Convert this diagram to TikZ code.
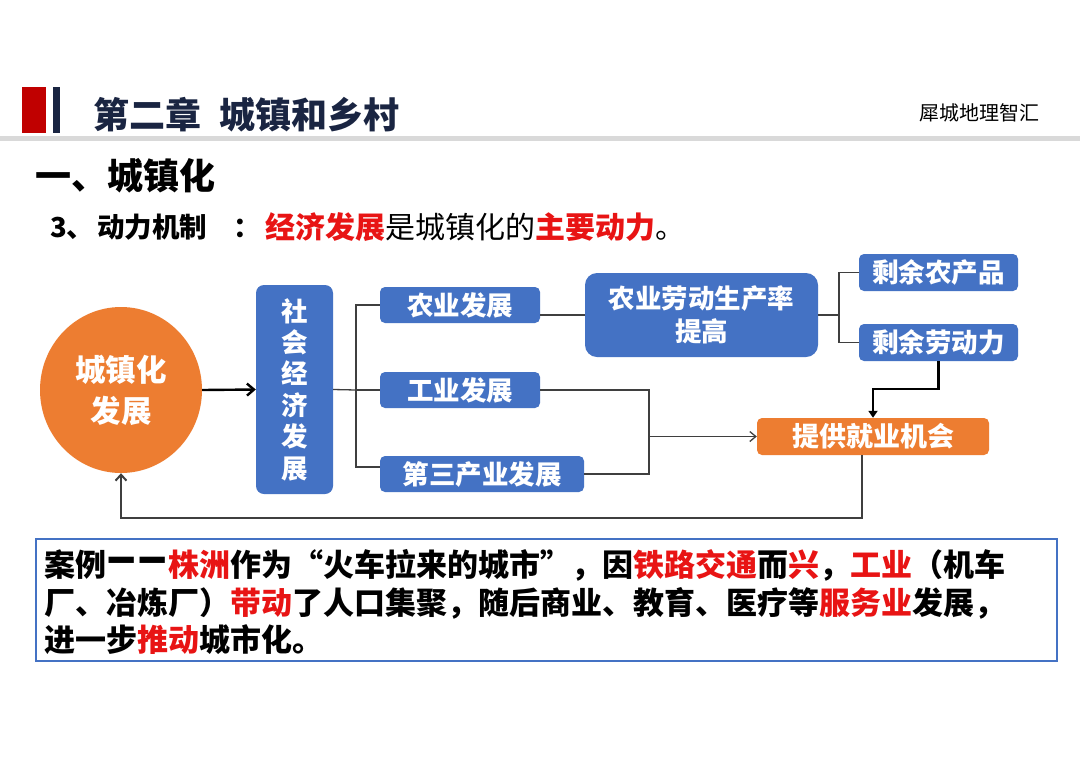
\documentclass[tikz,border=0pt]{standalone}
\usepackage{fontspec}
\usepackage{graphicx}
\setmainfont{Noto Sans CJK SC}
\usetikzlibrary{shapes.geometric,arrows.meta,calc}
\definecolor{boxblue}{HTML}{4472C4}
\definecolor{boxorange}{HTML}{ED7D31}
\definecolor{navy}{HTML}{1A2542}
\definecolor{barred}{HTML}{C00000}
\definecolor{hlred}{HTML}{E81414}
\definecolor{lineg}{HTML}{3F3F3F}
\definecolor{rulegray}{HTML}{D9D9D9}
\newcommand\redw[1]{\textcolor{hlred}{#1}}
\newcommand\setfs[2]{\fontsize{#1}{#2}\selectfont}
\newcommand\wdash{\makebox[1em]{\scalebox{1.0}[1.8]{—}}}
\begin{document}
\begin{tikzpicture}[x=1pt,y=-1pt,
  bluebox/.style={fill=boxblue, rounded corners=5pt, text=white, inner sep=0pt,
                  font=\bfseries\setfs{26.5}{33}, align=center},
  orangebox/.style={fill=boxorange, rounded corners=5pt, text=white, inner sep=0pt,
                  font=\bfseries\setfs{27}{33}, align=center},
  conn/.style={draw=lineg, line width=1.3pt},
  thinarrow/.style={draw=lineg, line width=1.3pt, -{Straight Barb[length=6pt,width=10pt]}},
  thickarrow/.style={draw=black, line width=2.4pt, -{Straight Barb[length=7pt,width=12pt]}},
  filledarrow/.style={draw=black, line width=2.4pt, -{Triangle[length=7pt,width=9pt]}},
  fbarrow/.style={draw=lineg, line width=2pt, -{Straight Barb[length=6pt,width=11pt]}},
  plaintext/.style={inner sep=0pt, anchor=west}
]
\useasboundingbox (0,0) rectangle (1080,764);
\fill[white] (0,0) rectangle (1080,764);

% header
\fill[barred] (22,87) rectangle (46,133);
\fill[navy] (53,87) rectangle (60,133);
\fill[rulegray] (0,136) rectangle (1080,141);
\node[plaintext, text=navy, font=\bfseries\setfs{36}{40}] (title) at (93,115) {第二章\hspace{18pt}城镇和乡村};
\node[inner sep=0pt, font=\setfs{20}{24}] (brand) at (979,113) {犀城地理智汇};
\node[plaintext, font=\bfseries\setfs{36}{40}] (sec) at (35,176) {一、城镇化};
\node[plaintext, font=\bfseries\setfs{27.5}{32}] (sub1) at (50,227) {3、\hspace{3pt}动力机制\hspace{26pt}：};
\node[plaintext, font=\setfs{30}{34}] (sub2) at (265,227) {\textbf{\redw{经济发展}}是城镇化的\textbf{\redw{主要动力}}。};

% diagram nodes
\node[ellipse, fill=boxorange, minimum width=162pt, minimum height=166pt, inner sep=0pt,
      text=white, font=\bfseries\setfs{30.5}{41}, align=center] (urb) at (121,390) {城镇化\\发展};
\node[bluebox, minimum width=77pt, minimum height=209pt, rounded corners=8pt,
      font=\bfseries\setfs{26.5}{31.4}] (soc) at (294.5,389.5) {社\\会\\经\\济\\发\\展};
\node[bluebox, minimum width=160pt, minimum height=36pt] (agr) at (460,305) {农业发展};
\node[bluebox, minimum width=160pt, minimum height=36pt] (ind) at (460,390) {工业发展};
\node[bluebox, minimum width=204pt, minimum height=36pt] (ter) at (482,474) {第三产业发展};
\node[bluebox, minimum width=233pt, minimum height=84pt, rounded corners=12pt] (prod) at (701.5,315) {农业劳动生产率\\提高};
\node[bluebox, minimum width=159pt, minimum height=37pt] (surp) at (938.5,272.5) {剩余农产品};
\node[bluebox, minimum width=159pt, minimum height=37pt] (labor) at (938.5,342.5) {剩余劳动力};
\node[orangebox, minimum width=232pt, minimum height=37pt] (job) at (873,436.5) {提供就业机会};

% connectors
\coordinate (trunk) at (356,390);
\coordinate (split) at (839,315);
\coordinate (merge) at (649,436.5);
\draw[thickarrow] (urb.east) -- (soc.west);
\draw[conn] (soc.east) -- (trunk);
\draw[conn] (agr.west) -| (trunk) |- ([yshift=7pt]ter.west);
\draw[conn] (ind.west) -- (trunk);
\draw[conn] (agr.east |- prod.west) -- (prod.west);
\draw[conn] (prod.east) -- (split);
\draw[conn] (surp.west) -| (split) |- (labor.west);
\draw[conn] (ind.east) -| (merge);
\draw[conn] (ter.east) -| (merge);
\draw[thinarrow] (merge) -- (job.west);
\draw[filledarrow] (labor.south) -- ++(0,28) -| (job.north);
\draw[fbarrow] ([xshift=-11pt]job.south) -- ++(0,63) -| (urb.south);

% case box
\node[draw=boxblue, line width=2.5pt, minimum width=1021pt, minimum height=122pt, inner sep=0pt] (casebox) at (546.5,600) {};
\node[plaintext, font=\bfseries\setfs{31}{37}] (case1) at (44,565) {案例\wdash\wdash\redw{株洲}作为“火车拉来的城市”，因\redw{铁路交通}而\redw{兴}，\redw{工业}（机车};
\node[plaintext, font=\bfseries\setfs{31}{37}] (case2) at (44,603) {厂、冶炼厂）\redw{带动}了人口集聚，随后商业、教育、医疗等\redw{服务业}发展，};
\node[plaintext, font=\bfseries\setfs{31}{37}] (case3) at (44,640) {进一步\redw{推动}城市化。};
\end{tikzpicture}
\end{document}
